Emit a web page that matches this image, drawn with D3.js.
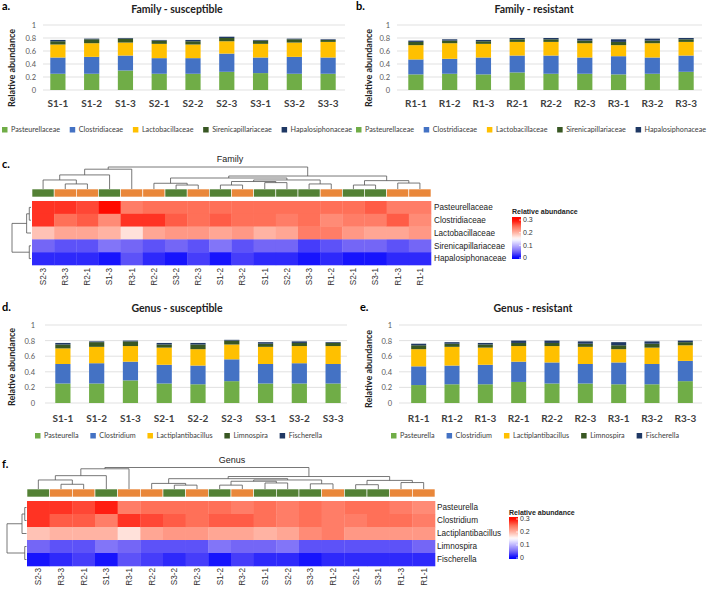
<!DOCTYPE html>
<html><head><meta charset="utf-8">
<script src="https://cdn.jsdelivr.net/npm/d3@7"></script>
<style>body{margin:0;background:#fff}svg{display:block}</style>
</head><body><svg id="c" width="709" height="591"></svg>
<script>
// ---------------- DATA ----------------
const susSamples = ["S1-1","S1-2","S1-3","S2-1","S2-2","S2-3","S3-1","S3-2","S3-3"];
const resSamples = ["R1-1","R1-2","R1-3","R2-1","R2-2","R2-3","R3-1","R3-2","R3-3"];
const familyNames = ["Pasteurellaceae","Clostridiaceae","Lactobacillaceae","Sirenicapillariaceae","Hapalosiphonaceae"];
const genusNames = ["Pasteurella","Clostridium","Lactiplantibacillus","Limnospira","Fischerella"];
const yTicks = [0,0.2,0.4,0.6,0.8,1];
const yTickLabels = ["0","0.2","0.4","0.6","0.8","1"];
const legendTicks = [0,0.1,0.2,0.3];
const legendTickLabels = ["0","0.1","0.2","0.3"];

// Family, susceptible (rows = families, cols = susSamples)
const famSus = [
  [0.25,0.25,0.30,0.25,0.25,0.28,0.26,0.25,0.25],
  [0.25,0.26,0.23,0.24,0.24,0.28,0.24,0.26,0.25],
  [0.20,0.21,0.20,0.22,0.21,0.19,0.21,0.22,0.24],
  [0.05,0.06,0.06,0.05,0.05,0.05,0.05,0.05,0.03],
  [0.02,0.01,0.01,0.01,0.02,0.02,0.01,0.01,0.01]
];
// Family, resistant
const famRes = [
  [0.24,0.25,0.24,0.27,0.25,0.25,0.24,0.25,0.28],
  [0.23,0.23,0.26,0.26,0.28,0.25,0.28,0.25,0.25],
  [0.22,0.24,0.21,0.21,0.21,0.22,0.17,0.22,0.21],
  [0.05,0.04,0.04,0.04,0.04,0.04,0.05,0.04,0.04],
  [0.02,0.02,0.02,0.02,0.02,0.03,0.04,0.03,0.02]
];
// Genus, susceptible
const genSus = [
  [0.25,0.25,0.29,0.25,0.24,0.28,0.25,0.25,0.25],
  [0.25,0.26,0.24,0.24,0.24,0.28,0.25,0.26,0.25],
  [0.20,0.21,0.20,0.22,0.21,0.19,0.22,0.22,0.23],
  [0.05,0.06,0.06,0.04,0.06,0.05,0.04,0.04,0.04],
  [0.02,0.01,0.01,0.02,0.02,0.01,0.02,0.02,0.01]
];
// Genus, resistant
const genRes = [
  [0.23,0.24,0.24,0.27,0.25,0.25,0.24,0.24,0.28],
  [0.24,0.24,0.25,0.26,0.27,0.25,0.28,0.26,0.26],
  [0.22,0.24,0.22,0.20,0.21,0.22,0.17,0.21,0.20],
  [0.05,0.04,0.04,0.04,0.04,0.04,0.05,0.05,0.04],
  [0.02,0.02,0.02,0.03,0.03,0.03,0.04,0.03,0.02]
];

// Heatmap column order (after clustering)
const heatOrder = ["S2-3","R3-3","R2-1","S1-3","R3-1","R2-2","S3-2","R2-3","S1-2","R3-2","S1-1","S2-2","S3-3","R1-2","S2-1","S3-1","R1-3","R1-1"];

// Dendrograms: [height, left, right]; heights relative to root = 1
const famColTree = [1.0,
  [0.90, [0.64, [0.41, "S2-3", [0.23, "R3-3", "R2-1"]], "S1-3"], "R3-1"],
  [0.59,
    [0.50,
      [0.26, "R2-2", [0.18, "S3-2", "R2-3"]],
      [0.41, [0.34, [0.18, "S1-2", "R3-2"], [0.29, "S1-1", "S2-2"]], [0.23, "S3-3", "R1-2"]]],
    [0.38, [0.18, "S2-1", "S3-1"], [0.27, "R1-3", "R1-1"]]]];
const genColTree = [1.0,
  [0.94, [0.62, [0.42, "S2-3", [0.22, "R3-3", "R2-1"]], "S1-3"], "R3-1"],
  [0.58,
    [0.48,
      [0.26, "R2-2", [0.18, "S3-2", "R2-3"]],
      [0.42, [0.36, [0.18, "S1-2", "R3-2"], [0.28, "S1-1", "S2-2"]], [0.24, "S3-3", "R1-2"]]],
    [0.40, [0.20, "S2-1", "S3-1"], [0.30, "R1-3", "R1-1"]]]];
const famRowTree = [1.0, [0.23, [0.09, "Pasteurellaceae", "Clostridiaceae"], "Lactobacillaceae"], [0.09, "Sirenicapillariaceae", "Hapalosiphonaceae"]];
const genRowTree = [1.0, [0.23, [0.09, "Pasteurella", "Clostridium"], "Lactiplantibacillus"], [0.09, "Limnospira", "Fischerella"]];

// ---------------- STYLE ----------------
const barColors = ["#70AD47","#4472C4","#FFC000","#385723","#1F3864"];
const groupColors = {S:"#538135", R:"#E9873A"};
const heatStops = [0,0.05,0.1,0.15,0.2,0.25,0.3];
const heatStopColors = ["#0000ff","#7466f6","#bcb3ff","#ffffff","#ffb3a3","#ff7058","#ff0a00"];
const BAR_FONT = "Lato, 'Open Sans', sans-serif";
const HM_FONT = "'Liberation Sans', Arial, sans-serif";

const svg = d3.select("#c");

function barPanel(cfg, samples, rows, names) {
  const g = svg.append("g");
  const x = d3.scaleBand().domain(samples).range([cfg.bx0, cfg.bx1]).paddingInner(0.55).paddingOuter(0.275);
  const y = d3.scaleLinear().domain([0,1]).range([cfg.y0, cfg.y1]);
  g.selectAll("line.grid").data(yTicks).join("line").attr("class","grid")
    .attr("x1",cfg.gx0).attr("x2",cfg.gx1).attr("y1",d=>y(d)).attr("y2",d=>y(d))
    .attr("stroke","#d9d9d9").attr("stroke-width",0.8);
  const ax = g.append("g").attr("transform",`translate(${cfg.gx0},0)`)
    .call(d3.axisLeft(y).tickValues(yTicks).tickFormat((d,i)=>yTickLabels[i]).tickSize(0).tickPadding(cfg.tp));
  ax.select(".domain").remove();
  ax.selectAll("text").attr("font-family",BAR_FONT).attr("font-size",7.5).attr("fill","#595959");
  const table = samples.map((s,i)=>{const o={sample:s}; names.forEach((n,k)=>o[n]=rows[k][i]); return o;});
  const stack = d3.stack().keys(names)(table);
  g.selectAll("g.layer").data(stack).join("g").attr("class","layer").attr("fill",(d,k)=>barColors[k])
    .selectAll("rect").data(d=>d).join("rect")
    .attr("x",d=>x(d.data.sample)).attr("width",x.bandwidth())
    .attr("y",d=>y(d[1])).attr("height",d=>y(d[0])-y(d[1]));
  const xa = g.append("g").attr("transform",`translate(0,${cfg.y0})`)
    .call(d3.axisBottom(x).tickSize(0));
  xa.select(".domain").remove();
  xa.selectAll("text").attr("y",cfg.xlabY-cfg.y0).attr("dy",0)
    .attr("font-family",BAR_FONT).attr("font-size",10).attr("font-weight","bold").attr("fill","#404040");
  g.append("text").attr("transform",`translate(${cfg.yLabX},${cfg.yLabY}) rotate(-90)`)
    .attr("text-anchor","middle").attr("font-family",BAR_FONT).attr("font-size",9).attr("font-weight","bold")
    .attr("fill","#222").text("Relative abundance");
  g.append("text").attr("x",cfg.titleX).attr("y",cfg.titleY).attr("text-anchor","middle")
    .attr("font-family",BAR_FONT).attr("font-size",10.5).attr("font-weight","bold").attr("fill","#222").text(cfg.title);
  g.append("text").attr("x",cfg.letterX).attr("y",cfg.letterY)
    .attr("font-family",BAR_FONT).attr("font-size",11).attr("font-weight","bold").attr("fill","#000").text(cfg.letter);
  // legend: laid out sequentially, gaps chosen so it spans [legStart, legEnd]
  const lg = g.selectAll("g.leg").data(names).join("g").attr("class","leg");
  lg.append("rect").attr("x",0).attr("y",-3).attr("width",5.5).attr("height",5.5).attr("fill",(d,i)=>barColors[i]);
  const txt = lg.append("text").attr("x",9).attr("y",0).attr("dy","0.33em").attr("font-family",BAR_FONT)
    .attr("font-size",7.2).attr("fill","#404040").text(d=>d);
  const widths = txt.nodes().map(n=>9+n.getComputedTextLength());
  const gap = (cfg.legEnd-cfg.legStart-d3.sum(widths))/(names.length-1);
  let cx = cfg.legStart;
  lg.each(function(d,i){ d3.select(this).attr("transform",`translate(${cx},${cfg.legY})`); cx += widths[i]+gap; });
}

function drawColTree(g, node, x, yH) {
  if (typeof node === "string") return {pos: x(node)+x.bandwidth()/2, h: 0};
  const a = drawColTree(g, node[1], x, yH), b = drawColTree(g, node[2], x, yH);
  g.append("path").attr("d",`M${a.pos},${yH(a.h)}V${yH(node[0])}H${b.pos}V${yH(b.h)}`)
    .attr("fill","none").attr("stroke","#555").attr("stroke-width",0.8);
  return {pos:(a.pos+b.pos)/2, h:node[0]};
}
function drawRowTree(g, node, y, xH) {
  if (typeof node === "string") return {pos: y(node)+y.bandwidth()/2, h: 0};
  const a = drawRowTree(g, node[1], y, xH), b = drawRowTree(g, node[2], y, xH);
  g.append("path").attr("d",`M${xH(a.h)},${a.pos}H${xH(node[0])}V${b.pos}H${xH(b.h)}`)
    .attr("fill","none").attr("stroke","#555").attr("stroke-width",0.8);
  return {pos:(a.pos+b.pos)/2, h:node[0]};
}

const heatColor = d3.scaleLinear().domain(heatStops).range(heatStopColors)
  .interpolate(d3.interpolateRgb).clamp(true);

function heatmap(cfg, names, susRows, resRows, colTree, rowTree, gid) {
  const g = svg.append("g");
  const valueOf = {};
  susSamples.forEach((s,i)=>valueOf[s]=susRows.map(r=>r[i]));
  resSamples.forEach((s,i)=>valueOf[s]=resRows.map(r=>r[i]));
  const x = d3.scaleBand().domain(heatOrder).range([cfg.left,cfg.right]);
  const y = d3.scaleBand().domain(names).range([cfg.hmTop,cfg.hmBot]);
  const cells = [];
  heatOrder.forEach(s=>names.forEach((n,k)=>cells.push({s,n,v:valueOf[s][k]})));
  g.selectAll("rect.cell").data(cells).join("rect").attr("class","cell")
    .attr("x",d=>x(d.s)).attr("y",d=>y(d.n)).attr("width",x.bandwidth()+0.3).attr("height",y.bandwidth()+0.3)
    .attr("fill",d=>heatColor(d.v));
  g.selectAll("rect.ann").data(heatOrder).join("rect").attr("class","ann")
    .attr("x",d=>x(d)).attr("y",cfg.annTop).attr("width",x.bandwidth()).attr("height",cfg.annBot-cfg.annTop)
    .attr("fill",d=>groupColors[d[0]]).attr("stroke","#fff").attr("stroke-width",0.6);
  const yH = d3.scaleLinear().domain([0,1]).range([cfg.annTop,cfg.rootY]);
  drawColTree(g, colTree, x, yH);
  const xH = d3.scaleLinear().domain([0,1]).range([cfg.rowBase,cfg.rowRootX]);
  drawRowTree(g, rowTree, y, xH);
  g.selectAll("text.rl").data(names).join("text").attr("class","rl")
    .attr("x",cfg.labelX).attr("y",d=>y(d)+y.bandwidth()/2).attr("dy","0.35em")
    .attr("font-family",HM_FONT).attr("font-size",8.2).attr("fill","#222").text(d=>d);
  g.selectAll("text.cl").data(heatOrder).join("text").attr("class","cl")
    .attr("transform",d=>`translate(${x(d)+x.bandwidth()/2},${cfg.colLabY}) rotate(-90)`)
    .attr("text-anchor","end").attr("dy","0.35em")
    .attr("font-family",HM_FONT).attr("font-size",8.2).attr("fill","#333").text(d=>d);
  g.append("text").attr("x",cfg.titleX).attr("y",cfg.titleY).attr("text-anchor","middle")
    .attr("font-family",HM_FONT).attr("font-size",9).attr("fill","#222").text(cfg.title);
  g.append("text").attr("x",cfg.letterX).attr("y",cfg.letterY)
    .attr("font-family",BAR_FONT).attr("font-size",11).attr("font-weight","bold").attr("fill","#000").text(cfg.letter);
  // legend
  const ly = d3.scaleLinear().domain([0,0.3]).range([cfg.lgY0,cfg.lgY3]);
  const grad = svg.append("defs").append("linearGradient").attr("id",gid)
    .attr("x1",0).attr("y1",1).attr("x2",0).attr("y2",0);
  const vmin = ly.invert(cfg.barBot), vmax = ly.invert(cfg.barTop);
  d3.range(0,1.0001,0.05).forEach(t=>grad.append("stop").attr("offset",t)
    .attr("stop-color",heatColor(vmin+t*(vmax-vmin))));
  g.append("rect").attr("x",cfg.legX).attr("y",cfg.barTop).attr("width",9).attr("height",cfg.barBot-cfg.barTop)
    .attr("fill",`url(#${gid})`);
  g.selectAll("line.lt").data(legendTicks).join("line").attr("class","lt")
    .attr("x1",cfg.legX+7).attr("x2",cfg.legX+9).attr("y1",d=>ly(d)).attr("y2",d=>ly(d))
    .attr("stroke","#fff").attr("stroke-width",0.7);
  g.selectAll("text.lt").data(legendTicks).join("text").attr("class","lt")
    .attr("x",cfg.legX+11).attr("y",d=>ly(d)).attr("dy","0.35em")
    .attr("font-family",HM_FONT).attr("font-size",7).attr("fill","#333").text((d,i)=>legendTickLabels[i]);
  g.append("text").attr("x",cfg.legX).attr("y",cfg.legTitleY)
    .attr("font-family",HM_FONT).attr("font-size",7).attr("font-weight","bold").attr("fill","#222").text("Relative abundance");
}

barPanel({gx0:43,gx1:345,bx0:41,bx1:345,y0:90,y1:25,tp:7,xlabY:107,title:"Family - susceptible",titleX:177,titleY:12.5,
  letter:"a.",letterX:2,letterY:10,yLabX:15,yLabY:68,legY:130,legStart:2,legEnd:352}, susSamples, famSus, familyNames);
barPanel({gx0:397,gx1:702,bx0:399,bx1:703,y0:90,y1:25,tp:7,xlabY:107,title:"Family - resistant",titleX:534,titleY:12.5,
  letter:"b.",letterX:356,letterY:10,yLabX:372,yLabY:68,legY:130,legStart:356,legEnd:706}, resSamples, famRes, familyNames);
barPanel({gx0:45,gx1:347,bx0:46,bx1:350,y0:403,y1:325,tp:10,xlabY:422,title:"Genus - susceptible",titleX:177,titleY:312,
  letter:"d.",letterX:2,letterY:311,yLabX:15,yLabY:367,legY:436,legStart:35,legEnd:322}, susSamples, genSus, genusNames);
barPanel({gx0:399,gx1:702,bx0:402,bx1:702,y0:403,y1:325,tp:7,xlabY:422,title:"Genus - resistant",titleX:533,titleY:312,
  letter:"e.",letterX:360,letterY:311,yLabX:372,yLabY:369,legY:436,legStart:391,legEnd:679}, resSamples, genRes, genusNames);

heatmap({left:32,right:431,annTop:189,annBot:197,hmTop:201,hmBot:265,rootY:167,rowRootX:12,rowBase:31,labelX:434,
  colLabY:268,title:"Family",titleX:230,titleY:162,letter:"c.",letterX:2,letterY:168,legX:512,legTitleY:214,
  barTop:217,barBot:259,lgY0:258,lgY3:220}, familyNames, famSus, famRes, famColTree, famRowTree, "gradC");
heatmap({left:27,right:435,annTop:489,annBot:497,hmTop:501,hmBot:566,rootY:467.5,rowRootX:7,rowBase:26.5,labelX:437,
  colLabY:568,title:"Genus",titleX:232,titleY:463,letter:"f.",letterX:2,letterY:468,legX:509,legTitleY:514.5,
  barTop:517,barBot:559,lgY0:558,lgY3:519}, genusNames, genSus, genRes, genColTree, genRowTree, "gradF");
</script></body></html>
